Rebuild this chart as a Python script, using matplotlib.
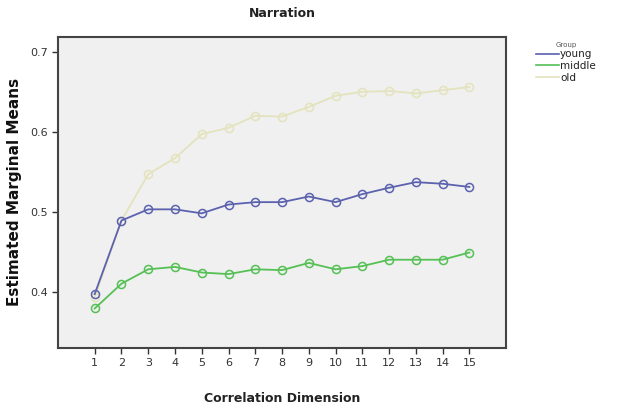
import matplotlib
matplotlib.use("Agg")
import matplotlib.pyplot as plt
from matplotlib.lines import Line2D

dims = list(range(1, 16))
young = [0.397, 0.489, 0.503, 0.503, 0.498, 0.509, 0.512, 0.512, 0.519, 0.512, 0.522, 0.530, 0.537, 0.535, 0.531]
middle = [0.379, 0.410, 0.428, 0.431, 0.424, 0.422, 0.428, 0.427, 0.436, 0.428, 0.432, 0.440, 0.440, 0.440, 0.449]
old = [0.393, 0.489, 0.547, 0.567, 0.597, 0.605, 0.620, 0.619, 0.631, 0.645, 0.650, 0.651, 0.648, 0.652, 0.656]
groups = ["young", "middle", "old"]
colors = ["#5b62ae", "#55c055", "#e3e3bd"]
yticks = [0.4, 0.5, 0.6, 0.7]

fig = plt.figure(figsize=(6.27, 4.07), dpi=100)
ax = fig.add_axes([0.093, 0.145, 0.7136, 0.765])
ax.set_facecolor("#f0f0f0")

for vals, c in zip([old, young, middle], [colors[2], colors[0], colors[1]]):
    ax.plot(dims, vals, color=c, lw=1.3, marker="o", ms=5.8, mfc="none", mec=c, mew=1.1)

ax.set_xlim(-0.36, 16.36)
ax.set_ylim(0.3296, 0.719)
ax.set_xticks(dims)
ax.set_xticklabels([str(d) for d in dims])
ax.set_yticks(yticks)
ax.set_yticklabels([f"{v:.1f}" for v in yticks])
ax.tick_params(axis="both", direction="out", length=4, width=1, color="#333333",
               labelsize=8, labelcolor="#333333")
for s in ax.spines.values():
    s.set_color("#444444")
    s.set_linewidth(1.5)

ax.set_title("Narration", fontsize=9, fontweight="bold", color="#222222", pad=14)
ax.set_xlabel("Correlation Dimension", fontsize=9, fontweight="bold", color="#222222", labelpad=17)
ax.set_ylabel("Estimated Marginal Means", fontsize=11, fontweight="bold", color="#111111", labelpad=6)

handles = [Line2D([0], [0], color=c, lw=1.2) for c in colors]
leg = fig.legend(handles, groups, title="Group", loc="upper left",
                 bbox_to_anchor=(0.84, 0.92), frameon=False, fontsize=7.5,
                 title_fontsize=5, handlelength=2.2, handletextpad=0.1,
                 labelspacing=0.15)
leg.get_title().set_color("#555555")
for t in leg.get_texts():
    t.set_color("#222222")

fig.savefig("out.png", dpi=100)
